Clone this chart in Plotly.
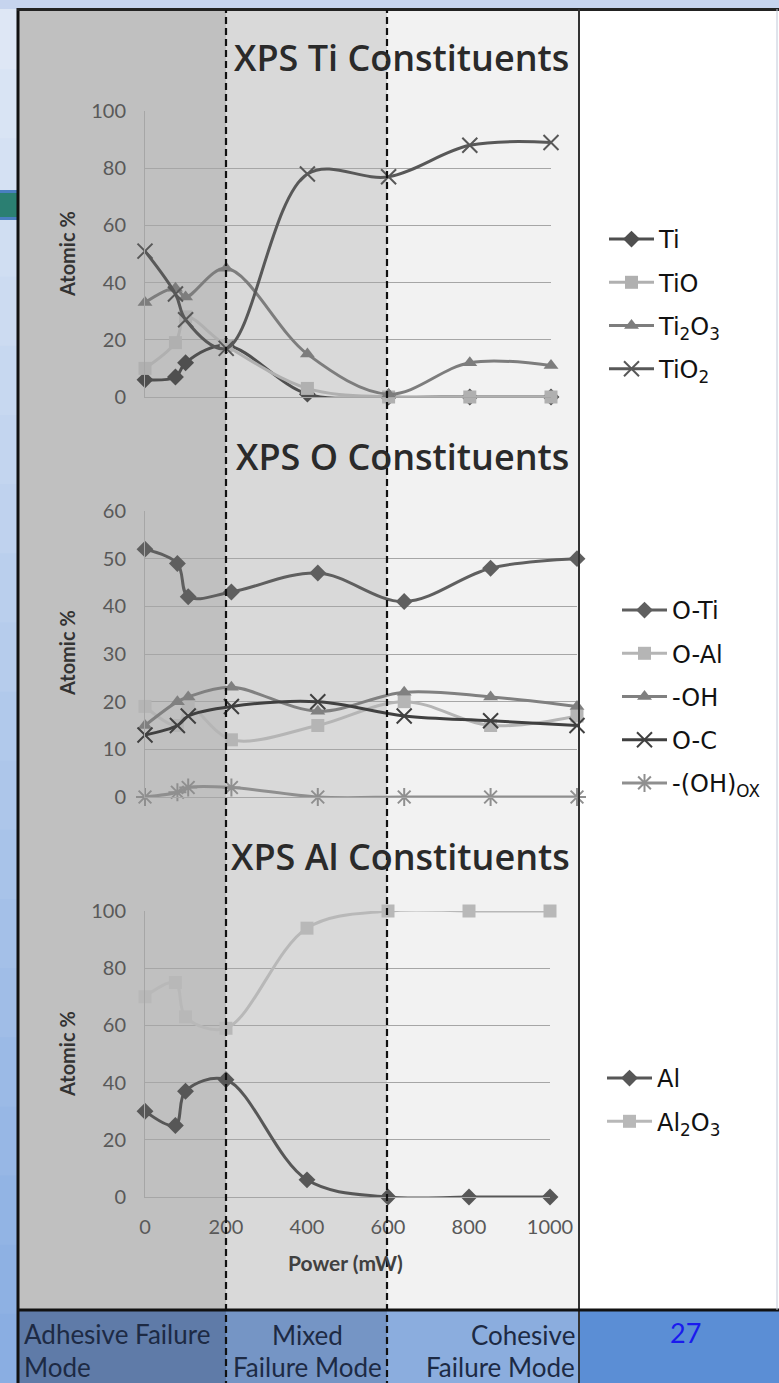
import plotly.graph_objects as go

W, H = 779, 1383

# ---------------- data ----------------
power = [0, 75, 100, 200, 400, 600, 800, 1000]

ti_Ti = [6, 7, 12, 18, 1, 0, 0, 0]
ti_TiO = [10, 19, 28, 18, 3, 0, 0, 0]
ti_Ti2O3 = [33, 38, 35, 45, 15, 1, 12, 11]
ti_TiO2 = [51, 36, 27, 17, 78, 77, 88, 89]

o_OTi = [52, 49, 42, 43, 47, 41, 48, 50]
o_OAl = [19, 15, 19, 12, 15, 20, 15, 17]
o_OH = [15, 20, 21, 23, 18, 22, 21, 19]
o_OC = [13, 15, 17, 19, 20, 17, 16, 15]
o_OHox = [0, 1, 2, 2, 0, 0, 0, 0]

al_Al = [30, 25, 37, 41, 6, 0, 0, 0]
al_Al2O3 = [70, 75, 63, 59, 94, 100, 100, 100]

x_ticks = [0, 200, 400, 600, 800, 1000]

FONT = "Lato"
TITLE_FONT = "Open Sans"
LEG_FONT = "DejaVu Sans"


def X(p):
    return p / W


def Y(p):
    return 1 - p / H


fig = go.Figure()


def add(xv, yv, name, color, symbol, axis, legend, size=13, open_sym=False):
    n = axis
    marker = dict(symbol=symbol, size=size, color=color)
    if open_sym:
        marker["line"] = dict(color=color, width=2)
    else:
        marker["line"] = dict(width=0)
    fig.add_trace(go.Scatter(
        x=xv, y=yv, name=name, mode="lines+markers",
        line=dict(color=color, width=3, shape="spline", smoothing=1.0),
        marker=marker, xaxis="x" + n, yaxis="y" + n,
        legend=legend, legendgroup=legend + name, cliponaxis=False,
    ))


# Ti
add(power, ti_Ti, "Ti", "#4f4f4f", "diamond", "", "legend")
add(power, ti_TiO, "TiO", "#b0b0b0", "square", "", "legend")
add(power, ti_Ti2O3, "Ti<sub>2</sub>O<sub>3</sub>", "#7d7d7d", "triangle-up", "", "legend")
add(power, ti_TiO2, "TiO<sub>2</sub>", "#585858", "x-thin-open", "", "legend", size=15, open_sym=True)
# O
add(power, o_OTi, "O-Ti", "#5f5f5f", "diamond", "2", "legend2")
add(power, o_OAl, "O-Al", "#b5b5b5", "square", "2", "legend2")
add(power, o_OH, "-OH", "#808080", "triangle-up", "2", "legend2")
add(power, o_OC, "O-C", "#404040", "x-thin-open", "2", "legend2", size=15, open_sym=True)
add(power, o_OHox, "-(OH)<sub>OX</sub>", "#8f8f8f", "asterisk-open", "2", "legend2", size=15, open_sym=True)
# Al
add(power, al_Al, "Al", "#575757", "diamond", "3", "legend3")
add(power, al_Al2O3, "Al<sub>2</sub>O<sub>3</sub>", "#b8b8b8", "square", "3", "legend3")

# ---------------- shapes ----------------
shapes = []


def rect(x0, y0, x1, y1, fill, layer="below", line=None):
    d = dict(type="rect", xref="paper", yref="paper", x0=X(x0), x1=X(x1), y0=Y(y1), y1=Y(y0),
             fillcolor=fill, layer=layer, line=dict(width=0) if line is None else line)
    shapes.append(d)


# left slide strip gradient
top_c = (222, 231, 245)
bot_c = (138, 174, 226)
nb = 20
for i in range(nb):
    t = i / (nb - 1)
    c = tuple(int(top_c[k] + (bot_c[k] - top_c[k]) * t) for k in range(3))
    rect(0, i * H / nb, 19, (i + 1) * H / nb + 1, "rgb(%d,%d,%d)" % c)
# top strip
rect(0, 0, W, 9, "#c6d4ee")
# teal bar
rect(0, 190, 19, 220, "#4a7fc0")
rect(0, 193, 19, 217, "#2b7f72")
# regions
rect(19, 9, 226, 1310, "#c0c0c0")
rect(226, 9, 387, 1310, "#d9d9d9")
rect(387, 9, 579, 1310, "#f2f2f2")
rect(579, 9, W, 1310, "#ffffff")
# bottom strip
rect(19, 1310, 226, H, "#5f7ba8")
rect(226, 1310, 387, H, "#7595c5")
rect(387, 1310, 579, H, "#8badde")
rect(579, 1310, W, H, "#5b8ed5")
# frame
shapes.append(dict(type="line", xref="paper", yref="paper", x0=X(18), x1=X(18), y0=Y(H + 5), y1=Y(8),
                   line=dict(color="#111111", width=3), layer="above"))
shapes.append(dict(type="line", xref="paper", yref="paper", x0=X(17), x1=X(W), y0=Y(9.5), y1=Y(9.5),
                   line=dict(color="#222222", width=3), layer="above"))
shapes.append(dict(type="line", xref="paper", yref="paper", x0=X(579), x1=X(579), y0=Y(H + 5), y1=Y(9),
                   line=dict(color="#333333", width=2), layer="above"))
shapes.append(dict(type="line", xref="paper", yref="paper", x0=X(17), x1=X(W), y0=Y(1310), y1=Y(1310),
                   line=dict(color="#111111", width=3), layer="above"))
shapes.append(dict(type="line", xref="paper", yref="paper", x0=X(777), x1=X(777), y0=Y(1310), y1=Y(9),
                   line=dict(color="#c0c8d8", width=1), layer="above"))
# dashed dividers
for xp in (226, 387):
    shapes.append(dict(type="line", xref="paper", yref="paper", x0=X(xp), x1=X(xp), y0=Y(H + 5), y1=Y(10),
                       line=dict(color="#111111", width=2.2, dash="7px,4px"), layer="above"))

# ---------------- annotations ----------------
ann = []


def text(x, y, s, size, color, xanchor="center", bold=False, angle=0, family=FONT, weight=None):
    if bold:
        s = "<b>" + s + "</b>"
    f = dict(family=family, size=size, color=color)
    if weight is not None:
        f["weight"] = weight
    ann.append(dict(x=X(x), y=Y(y), xref="paper", yref="paper", text=s, showarrow=False,
                    xanchor=xanchor, yanchor="middle", textangle=angle, font=f))


text(571, 57, "XPS Ti Constituents", 36, "#2a2a2a", xanchor="right", family=TITLE_FONT, weight=600)
text(571, 456, "XPS O Constituents", 36, "#2a2a2a", xanchor="right", family=TITLE_FONT, weight=600)
text(572, 857, "XPS Al Constituents", 36, "#2a2a2a", xanchor="right", family=TITLE_FONT, weight=600)
for yc in (254, 653, 1054):
    text(67, yc, "Atomic %", 20, "#333333", bold=True, angle=-90)
text(345, 1262, "Power (mW)", 21, "#404040", bold=True)

text(22, 1334, "Adhesive Failure", 26, "#1d2a44", xanchor="left")
text(22, 1367, "Mode", 26, "#1d2a44", xanchor="left")
text(307, 1335, "Mixed", 26, "#1d2a44")
text(307, 1367, "Failure Mode", 26, "#1d2a44")
text(577, 1335, "Cohesive", 26, "#1d2a44", xanchor="right")
text(577, 1367, "Failure Mode", 26, "#1d2a44", xanchor="right")
text(685, 1332, "27", 27, "#1a1aee")

# ---------------- axes ----------------
grid = "#a6a6a6"
tickfont = dict(family=FONT, size=20, color="#595959")


def yax(dom_bottom, dom_top, rmax, dt, anchor):
    return dict(domain=[Y(dom_bottom), Y(dom_top)], range=[0, rmax], dtick=dt, tick0=0,
                showgrid=True, gridcolor=grid, gridwidth=1, showline=True, linecolor=grid, linewidth=1,
                zeroline=False, ticks="", tickfont=tickfont, ticklabelstandoff=14, anchor=anchor,
                fixedrange=True, automargin=False)


def xax(left, right, anchor, labels):
    return dict(domain=[X(left), X(right)], range=[0, 1000], showgrid=False, zeroline=False,
                showline=True, linecolor=grid, linewidth=1, ticks="", showticklabels=labels,
                tickvals=x_ticks, ticktext=[str(v) for v in x_ticks], tickfont=tickfont,
                ticklabelstandoff=12, anchor=anchor, fixedrange=True, automargin=False)


legend_common = dict(xanchor="left", yanchor="top", bgcolor="rgba(0,0,0,0)", borderwidth=0,
                     font=dict(family=LEG_FONT, size=24, color="#111111"), traceorder="grouped",
                     tracegroupgap=9, itemwidth=45)

fig.update_layout(
    width=W, height=H, margin=dict(l=0, r=0, t=0, b=0, pad=0, autoexpand=False),
    paper_bgcolor="#c9d6ee", plot_bgcolor="rgba(0,0,0,0)",
    showlegend=True,
    xaxis=xax(145, 551, "y", False),
    yaxis=yax(397, 111, 100, 20, "x"),
    xaxis2=xax(145, 577, "y2", False),
    yaxis2=yax(797, 511, 60, 10, "x2"),
    xaxis3=xax(145, 550, "y3", True),
    yaxis3=yax(1197, 911, 100, 20, "x3"),
    legend=dict(x=X(604), y=Y(217), **legend_common),
    legend2=dict(x=X(617), y=Y(588), **legend_common),
    legend3=dict(x=X(602), y=Y(1056), **legend_common),
    shapes=shapes,
    annotations=ann,
)

fig.write_html(
    "out.html",
    config={"displayModeBar": False},
    post_script="document.body.style.margin='0';document.body.style.overflow='hidden';",
)
